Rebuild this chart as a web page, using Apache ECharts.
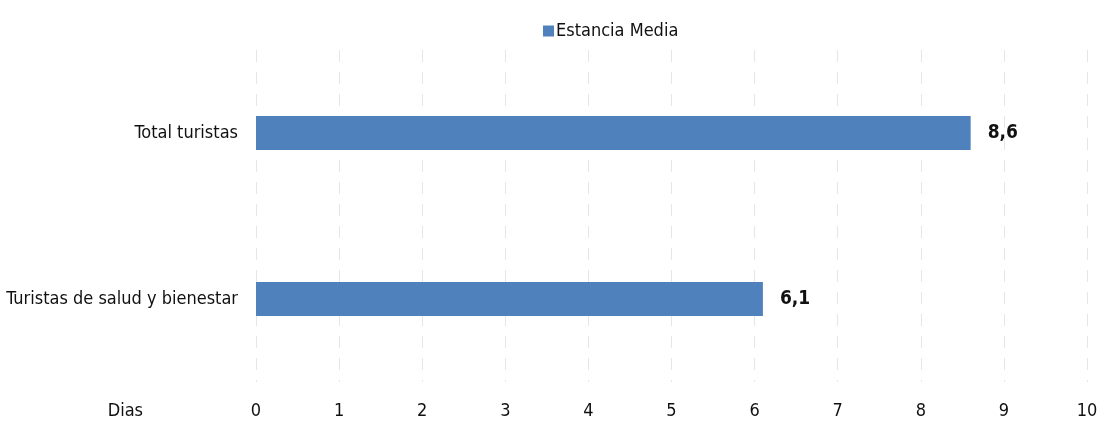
<!DOCTYPE html>
<html>
<head>
<meta charset="utf-8">
<script src="https://cdn.jsdelivr.net/npm/echarts@6/dist/echarts.min.js"></script>
<style>
  html, body { margin: 0; padding: 0; background: #fff; }
  #chart { width: 1102px; height: 423px; }
</style>
</head>
<body>
<div id="chart"></div>
<script>
const categories = ['Total turistas', 'Turistas de salud y bienestar'];
const estanciaMedia = [8.6, 6.1];
const seriesName = 'Estancia Media';
const axisName = 'Dias';

const font = '"Liberation Sans Narrow", "Arial Narrow", "DejaVu Sans Condensed", sans-serif';

const chart = echarts.init(document.getElementById('chart'));

const option = {
  textStyle: { fontFamily: font },
  legend: {
    left: 538,
    top: 17,
    itemWidth: 11,
    itemHeight: 11,
    itemGap: 10,
    icon: 'rect',
    textStyle: { fontFamily: font, fontSize: 18, color: '#111', padding: [0, 0, 0, -3] },
    data: [seriesName]
  },
  grid: { left: 256, right: 15, top: 50, bottom: 41, containLabel: false },
  xAxis: {
    type: 'value',
    min: 0,
    max: 10,
    interval: 1,
    name: axisName,
    nameLocation: 'start',
    nameGap: 113,
    nameTextStyle: { fontFamily: font, fontSize: 18, color: '#111', verticalAlign: 'top', padding: [20, 0, 0, 0] },
    axisLine: { show: false },
    axisTick: { show: false },
    axisLabel: { fontFamily: font, fontSize: 18, color: '#111', margin: 20 },
    splitLine: { show: true, lineStyle: { color: '#e6e6e6', type: [12, 10], width: 1 } }
  },
  yAxis: {
    type: 'category',
    inverse: true,
    data: categories,
    axisLine: { show: false },
    axisTick: { show: false },
    axisLabel: { fontFamily: font, fontSize: 18, color: '#111', margin: 18 }
  },
  series: [{
    name: seriesName,
    type: 'bar',
    data: estanciaMedia,
    barWidth: 34,
    itemStyle: { color: '#4f81bd' },
    label: {
      show: true,
      position: 'right',
      distance: 17,
      fontFamily: font,
      fontSize: 19,
      fontWeight: 'bold',
      color: '#111',
      formatter: p => String(p.value).replace('.', ',')
    }
  }]
};

chart.setOption(option);
</script>
</body>
</html>
